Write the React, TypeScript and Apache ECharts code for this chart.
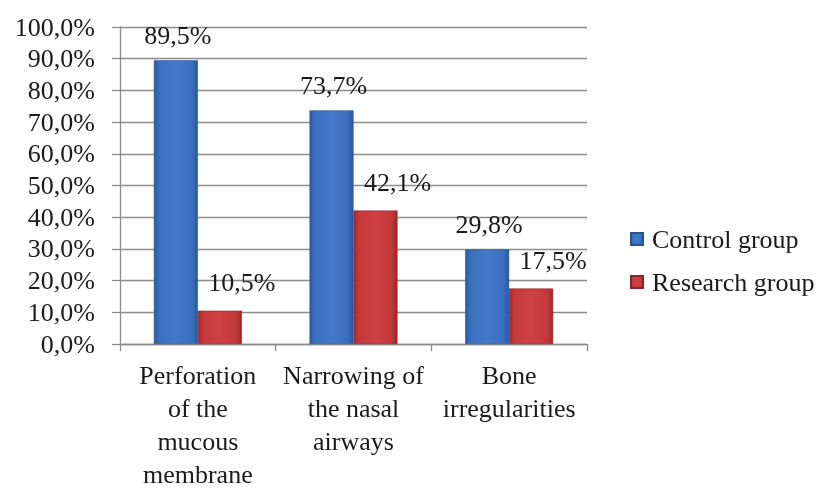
import React, { useEffect, useRef } from "react";
import * as echarts from "echarts";

const categories = [
  "Perforation\nof the\nmucous\nmembrane",
  "Narrowing of\nthe nasal\nairways",
  "Bone\nirregularities",
];
const controlGroup = [89.5, 73.7, 29.8];
const researchGroup = [10.5, 42.1, 17.5];
const seriesNames = ["Control group", "Research group"];

const fmt = (v: number) => v.toFixed(1).replace(".", ",") + "%";
const FONT = "Liberation Serif";
const FS = 26;

export default function App() {
  const ref = useRef<HTMLDivElement>(null);
  useEffect(() => {
    if (!ref.current) return;
    const chart = echarts.init(ref.current, null, { renderer: "svg" });
    const blue = new echarts.graphic.LinearGradient(0, 0, 1, 0, [
      { offset: 0, color: "#2a5aa2" },
      { offset: 0.12, color: "#3b70c1" },
      { offset: 0.5, color: "#4479c9" },
      { offset: 0.88, color: "#3a6ebe" },
      { offset: 1, color: "#28569a" },
    ]);
    const red = new echarts.graphic.LinearGradient(0, 0, 1, 0, [
      { offset: 0, color: "#a3282a" },
      { offset: 0.12, color: "#c5393b" },
      { offset: 0.5, color: "#cf4143" },
      { offset: 0.88, color: "#c2383a" },
      { offset: 1, color: "#9a2628" },
    ]);
    const labelBase = {
      show: true,
      position: "top" as const,
      distance: 5,
      fontFamily: FONT,
      fontSize: FS,
      color: "#1a1a1a",
      formatter: (p: any) => fmt(p.value),
    };
    chart.setOption({
      animation: false,
      textStyle: { fontFamily: FONT },
      grid: { left: 120, right: 237, top: 27, bottom: 140, containLabel: false },
      legend: {
        orient: "vertical",
        left: 625,
        top: 221,
        itemWidth: 12,
        itemHeight: 12,
        itemGap: 17,
        icon: "rect",
        textStyle: { fontFamily: FONT, fontSize: FS, color: "#1a1a1a", padding: [0, 0, 0, 4] },
        data: seriesNames,
      },
      xAxis: {
        type: "category",
        data: categories,
        axisLine: { lineStyle: { color: "#8c8c8c", width: 1.3 } },
        axisTick: { show: true, length: 7, lineStyle: { color: "#8c8c8c", width: 1.3 } },
        axisLabel: {
          fontFamily: FONT,
          fontSize: FS,
          color: "#1a1a1a",
          lineHeight: 33,
          margin: 15,
          interval: 0,
        },
      },
      yAxis: {
        type: "value",
        min: 0,
        max: 100,
        interval: 10,
        axisLine: { show: true, lineStyle: { color: "#8c8c8c", width: 1.3 } },
        axisTick: { show: true, length: 8, lineStyle: { color: "#8c8c8c", width: 1.3 } },
        splitLine: { lineStyle: { color: "#8c8c8c", width: 1.3 } },
        axisLabel: {
          fontFamily: FONT,
          fontSize: FS,
          color: "#1a1a1a",
          margin: 25,
          formatter: (v: number) => fmt(v),
        },
      },
      series: [
        {
          name: seriesNames[0],
          type: "bar",
          data: controlGroup,
          barWidth: 44,
          barGap: "0%",
          itemStyle: { color: blue, borderColor: "#285592", borderWidth: 0.6 },
          label: { ...labelBase, offset: [2, -7] },
        },
        {
          name: seriesNames[1],
          type: "bar",
          data: researchGroup,
          barWidth: 44,
          barGap: "0%",
          itemStyle: { color: red, borderColor: "#8e2426", borderWidth: 0.6 },
          label: { ...labelBase, offset: [22, -10] },
        },
      ],
    });
    return () => chart.dispose();
  }, []);
  return (
    <div
      ref={ref}
      style={{ position: "fixed", left: 0, top: 0, width: 824, height: 491 }}
    />
  );
}
